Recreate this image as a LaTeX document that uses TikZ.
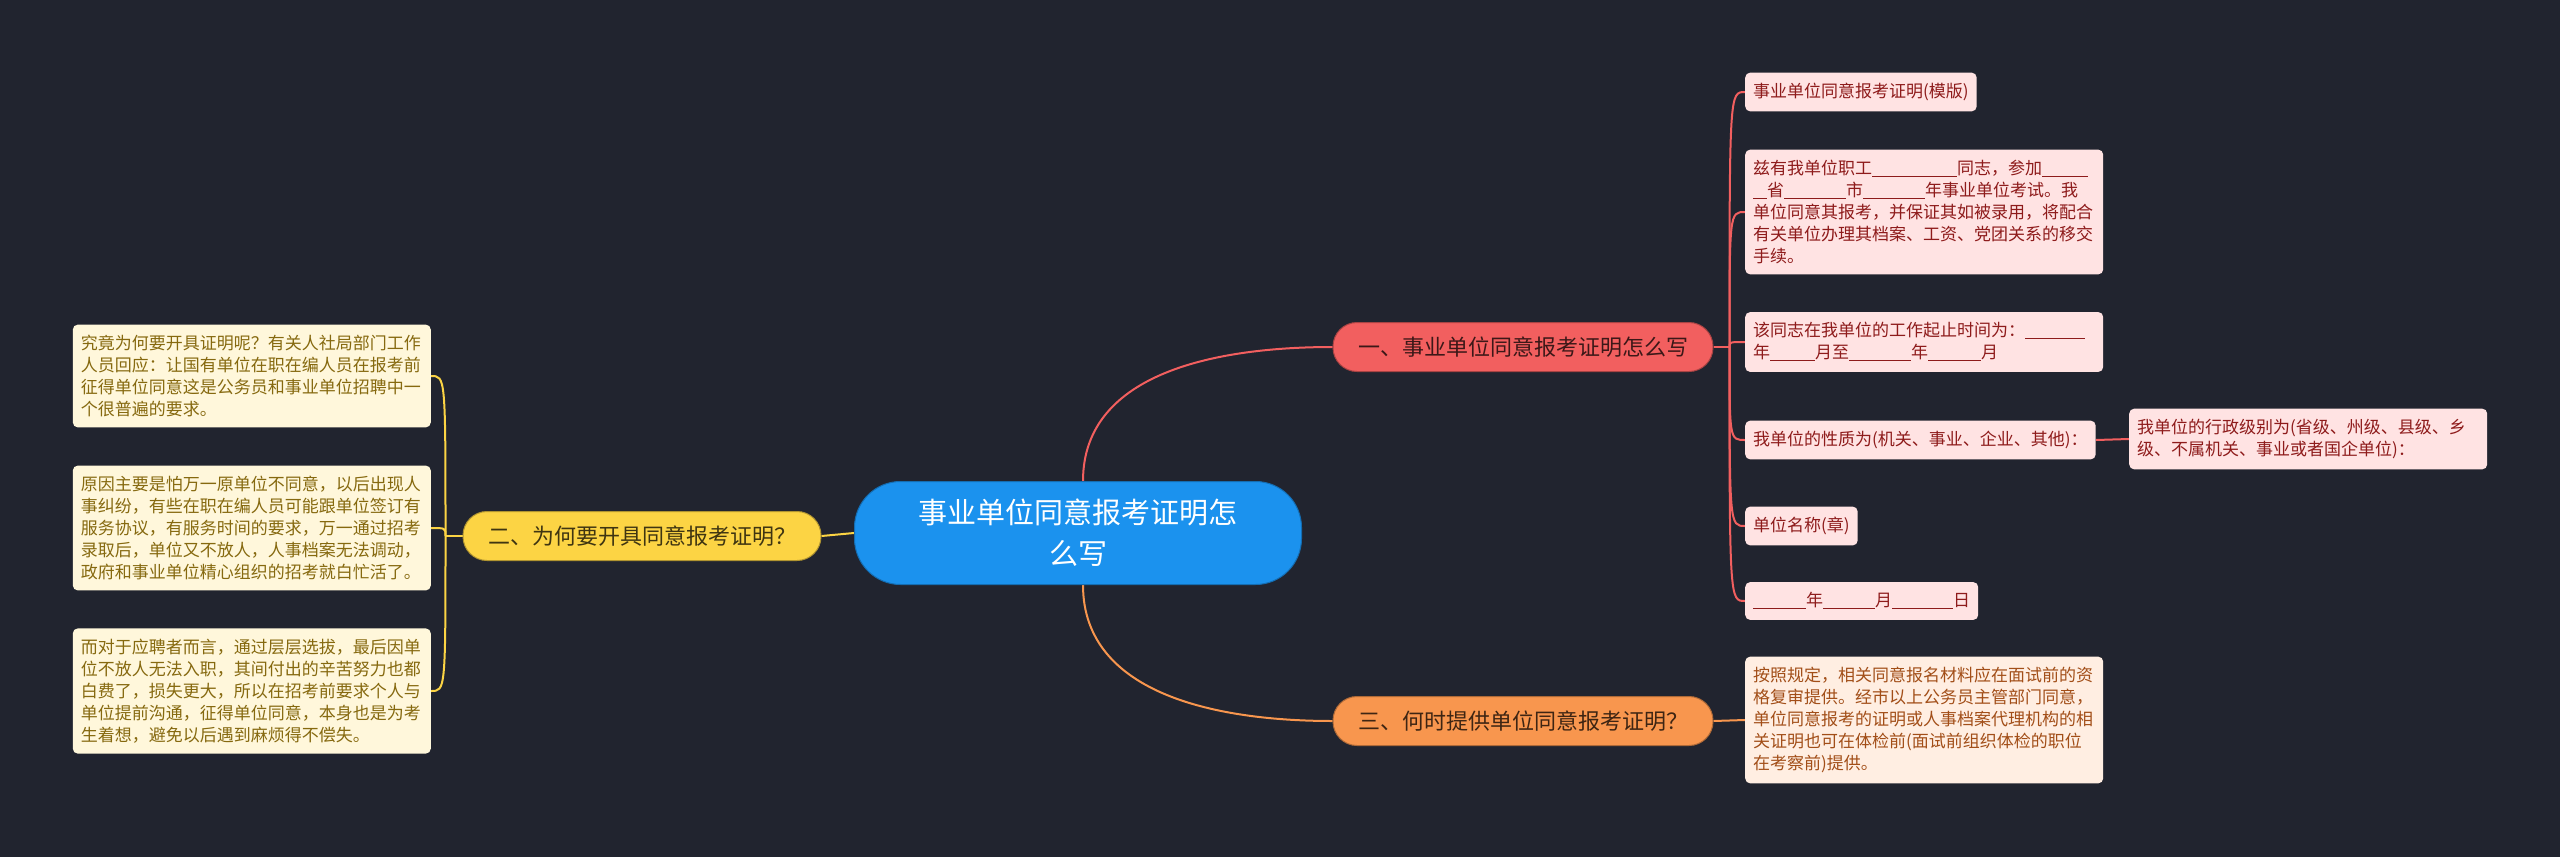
\documentclass[tikz,border=0pt]{standalone}
\usepackage{fontspec}
\setmainfont{Noto Sans CJK SC}
\usetikzlibrary{positioning, backgrounds, calc}
\definecolor{cbg}{HTML}{21242F}
\definecolor{cblue}{HTML}{1B92EE}
\definecolor{cred}{HTML}{F25F5F}
\definecolor{credbg}{HTML}{FFE3E3}
\definecolor{credtx}{HTML}{8E1B1B}
\definecolor{corange}{HTML}{F8964E}
\definecolor{corangebg}{HTML}{FFEEE2}
\definecolor{corangetx}{HTML}{A24E18}
\definecolor{cyellow}{HTML}{FCD444}
\definecolor{cyellowbg}{HTML}{FFF7DB}
\definecolor{cyellowtx}{HTML}{86690F}
\tikzset{
  root/.style={fill=cblue, draw=cblue!75!black, line width=1pt, rounded corners=46pt, minimum width=447pt, minimum height=103pt, align=center, text=white, font=\fontsize{29pt}{41pt}\selectfont},
  branch/.style={fill=#1, draw=#1!70!black, line width=1pt, rounded corners=24pt, minimum height=49pt, inner xsep=25pt, text=#1!25!black, font=\fontsize{22pt}{26pt}\selectfont},
  leaf/.style={fill=#1bg, text=#1tx, rounded corners=5pt, inner xsep=8pt, inner ysep=10.5pt, align=left, font=\fontsize{17pt}{22pt}\selectfont},
  wide/.style={text width=342pt},
  link/.style={draw=#1, line width=2pt},
}
\newcommand{\fillin}[1]{\rule[-2.5pt]{#1pt}{1pt}}

\begin{document}
\begin{tikzpicture}[x=1pt, y=-1pt]
  \useasboundingbox (0,0) rectangle (2560,857);
  \node[root] (main) at (1078, 533) {事业单位同意报考证明怎\\么写};
  % branches
  \node[branch=cred] (b1) at (1523, 347) {一、事业单位同意报考证明怎么写};
  \node[branch=cyellow] (b2) at (642, 536) {二、为何要开具同意报考证明？};
  \node[branch=corange] (b3) at (1523, 721) {三、何时提供单位同意报考证明？};
  % right side, first branch
  \node[leaf=cred, anchor=west] (l1) at (1745, 92) {事业单位同意报考证明(模版)};
  \node[leaf=cred, wide, anchor=west] (l2) at (1745, 212)
    {兹有我单位职工\fillin{85}同志，参加\fillin{46}\\
     \fillin{14}省\fillin{62}市\fillin{62}年事业单位考试。我\\
     单位同意其报考，并保证其如被录用，将配合\\
     有关单位办理其档案、工资、党团关系的移交\\
     手续。};
  \node[leaf=cred, wide, anchor=west] (l3) at (1745, 342)
    {该同志在我单位的工作起止时间为：\fillin{60}\\
     年\fillin{45}月至\fillin{62}年\fillin{53}月};
  \node[leaf=cred, anchor=west] (l4) at (1745, 440) {我单位的性质为(机关、事业、企业、其他)：};
  \node[leaf=cred, wide, anchor=west] (l4c) at (2129, 439)
    {我单位的行政级别为(省级、州级、县级、乡\\
     级、不属机关、事业或者国企单位)：};
  \node[leaf=cred, anchor=west] (l5) at (1745, 526) {单位名称(章)};
  \node[leaf=cred, anchor=west] (l6) at (1745, 601) {\fillin{53}年\fillin{52}月\fillin{61}日};
  % third branch
  \node[leaf=corange, wide, anchor=west] (l7) at (1745, 720)
    {按照规定，相关同意报名材料应在面试前的资\\
     格复审提供。经市以上公务员主管部门同意，\\
     单位同意报考的证明或人事档案代理机构的相\\
     关证明也可在体检前(面试前组织体检的职位\\
     在考察前)提供。};
  % left side, second branch
  \node[leaf=cyellow, wide, anchor=east] (y1) at (431, 376)
    {究竟为何要开具证明呢？有关人社局部门工作\\
     人员回应：让国有单位在职在编人员在报考前\\
     征得单位同意这是公务员和事业单位招聘中一\\
     个很普遍的要求。};
  \node[leaf=cyellow, wide, anchor=east] (y2) at (431, 528)
    {原因主要是怕万一原单位不同意，以后出现人\\
     事纠纷，有些在职在编人员可能跟单位签订有\\
     服务协议，有服务时间的要求，万一通过招考\\
     录取后，单位又不放人，人事档案无法调动，\\
     政府和事业单位精心组织的招考就白忙活了。};
  \node[leaf=cyellow, wide, anchor=east] (y3) at (431, 691)
    {而对于应聘者而言，通过层层选拔，最后因单\\
     位不放人无法入职，其间付出的辛苦努力也都\\
     白费了，损失更大，所以在招考前要求个人与\\
     单位提前沟通，征得单位同意，本身也是为考\\
     生着想，避免以后遇到麻烦得不偿失。};
  % connectors
  \begin{scope}[on background layer]
    \fill[cbg] (0,0) rectangle (2560,857);
    \draw[link=cred] ([xshift=5pt]main.north) to[out=90, in=180] (b1.west);
    \draw[link=corange] ([xshift=5pt]main.south) to[out=-90, in=180] (b3.west);
    \draw[link=cyellow] (main.west) -- (b2.east);
    \coordinate (s1) at ([xshift=16pt]b1.east);
    \draw[link=cred] (b1.east) -- (s1);
    \foreach \l in {l1, l2, l3, l4, l5, l6}
      \draw[link=cred] (s1) .. controls (s1 |- \l.west) .. (\l.west);
    \draw[link=cred] (l4.east) -- (l4c.west);
    \draw[link=corange] (b3.east) -- (l7.west);
    \coordinate (s2) at ([xshift=-17pt]b2.west);
    \draw[link=cyellow] (b2.west) -- (s2);
    \foreach \l in {y1, y2, y3}
      \draw[link=cyellow] (s2) .. controls (s2 |- \l.east) .. (\l.east);
  \end{scope}
\end{tikzpicture}
\end{document}
